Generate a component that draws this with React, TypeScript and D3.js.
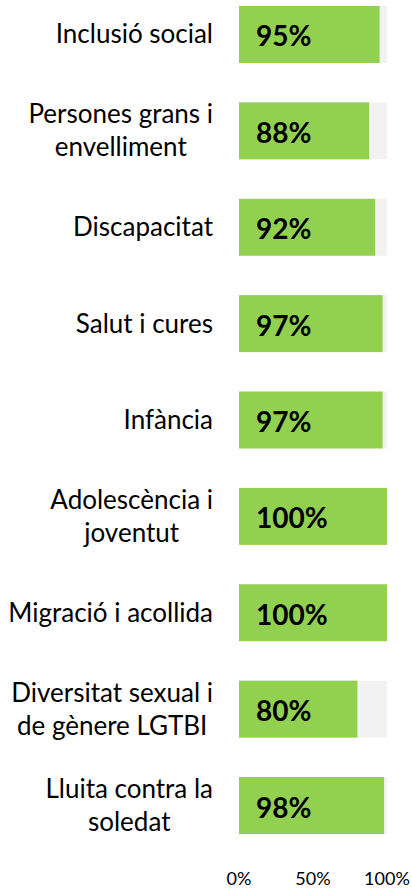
import React, { useMemo } from "react";
import * as d3 from "d3";

const categories = [
  "Inclusió social",
  "Persones grans i envelliment",
  "Discapacitat",
  "Salut i cures",
  "Infància",
  "Adolescència i joventut",
  "Migració i acollida",
  "Diversitat sexual i de gènere LGTBI",
  "Lluita contra la soledat",
];
const labelLines = [
  ["Inclusió social"],
  ["Persones grans i", "envelliment"],
  ["Discapacitat"],
  ["Salut i cures"],
  ["Infància"],
  ["Adolescència i", "joventut"],
  ["Migració i acollida"],
  ["Diversitat sexual i", "de gènere LGTBI"],
  ["Lluita contra la", "soledat"],
];
const values = [95, 88, 92, 97, 97, 100, 100, 80, 98];
const ticks = [0, 50, 100];

const W = 412;
const H = 890;
const FONT = "Lato, 'Open Sans', sans-serif";
const LABEL_SIZE = 26;

function measure(text: string, font: string): number {
  const c = document.createElement("canvas");
  const ctx = c.getContext("2d");
  if (!ctx) return text.length * 12;
  ctx.font = font;
  return ctx.measureText(text).width;
}

export default function App() {
  const x = d3.scaleLinear().domain([0, 100]).range([239, 387]);
  const y = d3
    .scaleBand<string>()
    .domain(categories)
    .range([6, 834])
    .paddingInner(0.409)
    .paddingOuter(0);
  const bw = y.bandwidth();
  const labelRight = 213;

  const widths = useMemo(
    () =>
      labelLines.map((lines) =>
        Math.max(...lines.map((l) => measure(l, `${LABEL_SIZE}px Lato`)))
      ),
    []
  );

  return (
    <svg
      width={W}
      height={H}
      style={{ position: "absolute", left: 0, top: 0, background: "#fff" }}
      fontFamily={FONT}
    >
      {categories.map((c, i) => {
        const y0 = y(c)!;
        const cy = y0 + bw / 2;
        const lines = labelLines[i];
        const cxText = labelRight - widths[i] / 2;
        const lh = 33;
        const startY = cy + 9 - ((lines.length - 1) * lh) / 2;
        return (
          <g key={c}>
            <rect x={x(0)} y={y0} width={x(100) - x(0)} height={bw} fill="#F2F2F2" />
            <rect x={x(0)} y={y0} width={x(values[i]) - x(0)} height={bw} fill="#92D050" />
            <text
              x={x(0) + 17}
              y={cy + 12}
              fontSize={28}
              fontWeight={700}
              fill="#000"
            >
              {values[i]}%
            </text>
            {lines.map((l, j) => (
              <text
                key={j}
                x={cxText}
                y={startY + j * lh}
                fontSize={LABEL_SIZE}
                textAnchor="middle"
                fill="#000"
              >
                {l}
              </text>
            ))}
          </g>
        );
      })}
      {ticks.map((t) => (
        <text
          key={t}
          x={x(t)}
          y={885}
          fontSize={18}
          textAnchor="middle"
          fill="#000"
        >
          {t}%
        </text>
      ))}
    </svg>
  );
}
